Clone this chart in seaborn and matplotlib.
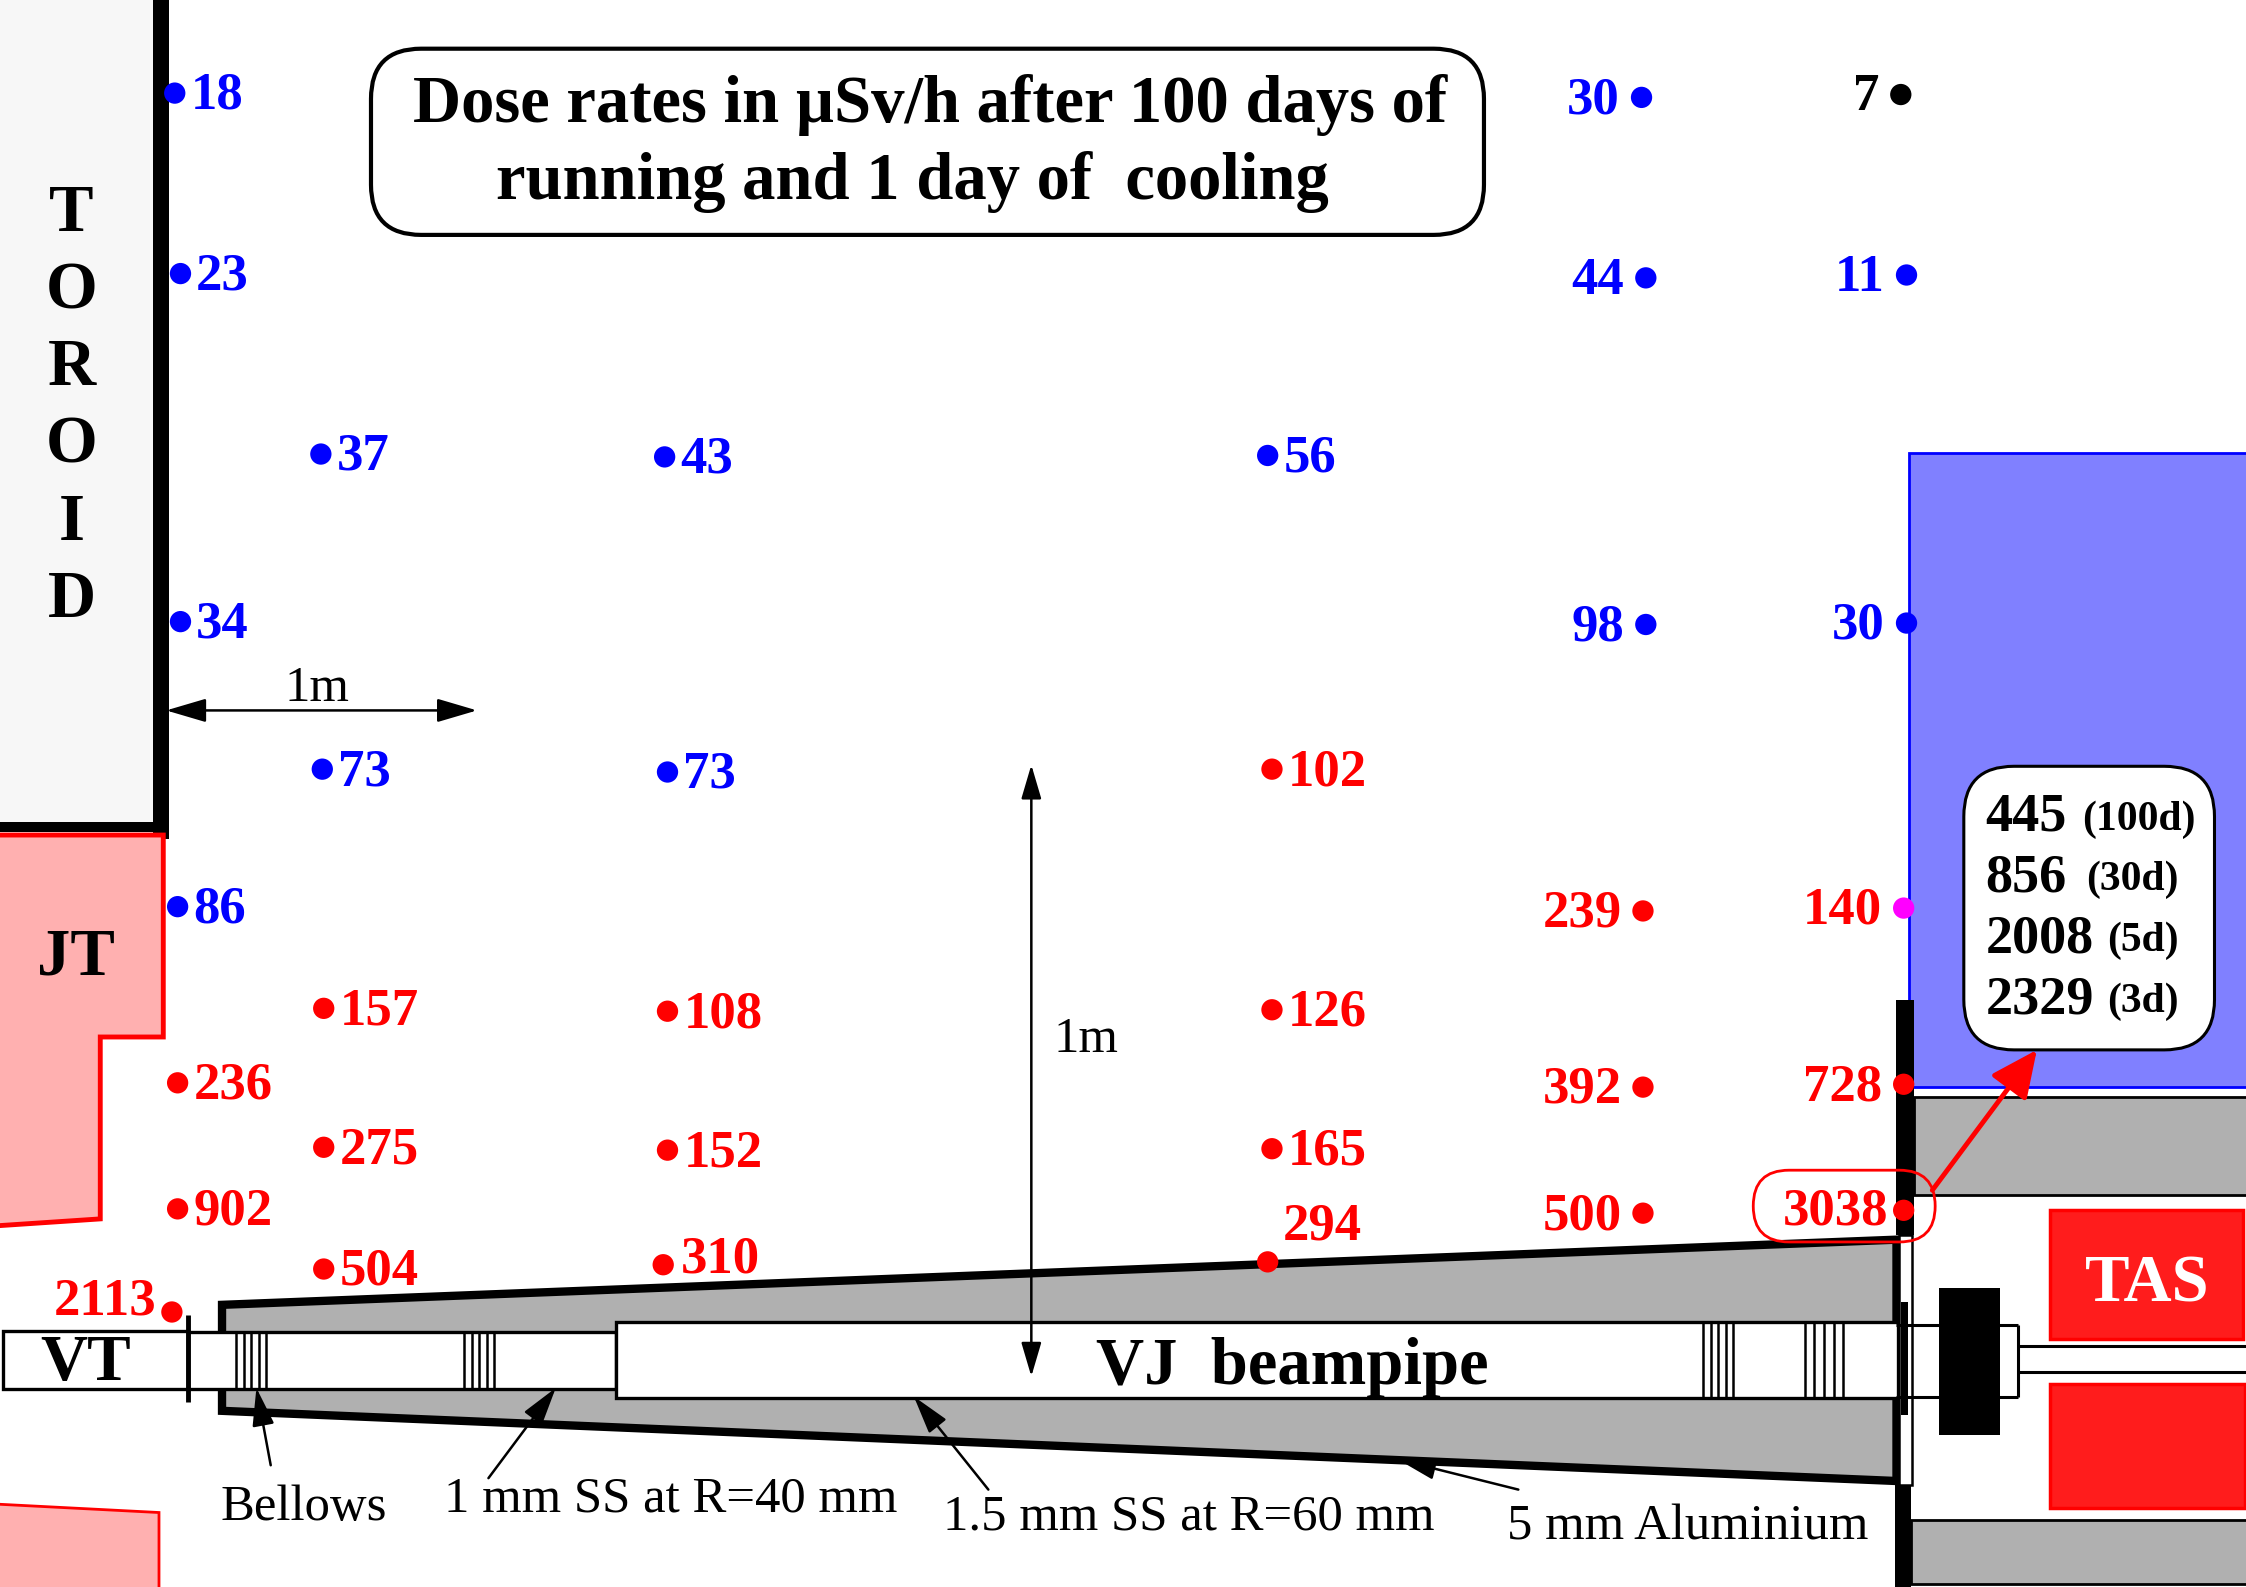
import matplotlib
matplotlib.use("Agg")
import matplotlib.pyplot as plt
from matplotlib.patches import Polygon, Rectangle, FancyBboxPatch, FancyArrowPatch
import pandas as pd
import seaborn as sns

# ---- measurement points (position on the drawing, dose rate, class) ----
point_x = [122, 126, 224, 464, 885, 126, 225, 466, 124,
           1146, 1149, 1331, 1149, 1331,
           1327,
           1329,
           888, 1147, 226, 466, 888, 124, 1147, 1329, 226, 466, 888, 124, 1147, 1329,
           226, 463, 885, 120]
point_y = [65, 191, 317, 319, 318, 434, 537, 539, 633,
           68, 194, 192, 436, 435,
           66,
           634,
           537, 636, 704, 706, 705, 756, 759, 757, 801, 803, 802, 844, 847, 845,
           886, 883, 881, 916]
point_value = [18, 23, 37, 43, 56, 34, 73, 73, 86,
               30, 44, 11, 98, 30,
               7,
               140,
               102, 239, 157, 108, 126, 236, 392, 728, 275, 152, 165, 902, 500, 3038,
               504, 310, 294, 2113]
point_class = ["blue"] * 14 + ["black"] + ["magenta"] + ["red"] * 18

class_colours = {"blue": "#0000ff", "black": "#000000", "magenta": "#ff00ff", "red": "#ff0000"}
label_colours = {"blue": "#0000ff", "black": "#000000", "magenta": "#ff0000", "red": "#ff0000"}

# ---- text content ----
title_lines = ["Dose rates in \u00b5Sv/h after 100 days of", "running and 1 day of  cooling"]
cooling_doses = ["445", "856", "2008", "2329"]
cooling_times = ["(100d)", "(30d)", "(5d)", "(3d)"]
toroid_letters = list("TOROID")

sns.set_theme(style="white", rc={"axes.grid": False, "text.color": "black"})
plt.rcParams["font.family"] = ["Liberation Serif", "DejaVu Serif"]

fig = plt.figure(figsize=(22.46, 15.87), dpi=100)
ax = fig.add_axes([0, 0, 1, 1])

GREY = "#b0b0b0"


def rect(x0, y0, x1, y1, fc="none", ec="black", lw=2.0, z=2):
    ax.add_patch(Rectangle((x0, y0), x1 - x0, y1 - y0, facecolor=fc, edgecolor=ec, linewidth=lw, zorder=z))


def line(xs, ys, lw=2.0, c="black", z=3):
    ax.plot(xs, ys, color=c, lw=lw, zorder=z, solid_capstyle="butt")


def arrow(a, b, style="-|>,head_length=0.9,head_width=0.26", lw=1.8, c="black", ms=26, z=6):
    ax.add_patch(FancyArrowPatch(a, b, arrowstyle=style, mutation_scale=ms, lw=lw, color=c,
                                 shrinkA=0, shrinkB=0, zorder=z))


# left: toroid and JT
rect(0, -5, 107, 575, fc="#f7f7f7", ec="none", lw=0)
rect(107, -5, 118, 586, fc="black", ec="none", lw=0, z=3)
rect(0, 574, 118, 581, fc="black", ec="none", lw=0, z=3)
ax.add_patch(Polygon([(-5, 583), (114, 583), (114, 724), (70, 724), (70, 851), (-5, 856)],
                     closed=True, fc="#ffb0b0", ec="#ff0000", lw=3.5, zorder=4))
ax.add_patch(Polygon([(-5, 1050), (111, 1056), (111, 1115), (-5, 1115)],
                     closed=True, fc="#ffb0b0", ec="#ff0000", lw=2, zorder=4))

# right: blue shield, grey blocks
rect(1333, 316, 1575, 759, fc="#8080ff", ec="#0000ff", lw=2)
rect(1336, 766, 1575, 834, fc=GREY, ec="black", lw=2)
rect(1334, 1061, 1575, 1106, fc=GREY, ec="black", lw=2)

# TAS
rect(1431, 845, 1566, 935, fc="#ff1c1c", ec="#ff0000", lw=2.5)
rect(1431, 966, 1567, 1053, fc="#ff1c1c", ec="#ff0000", lw=2.5)

# cone
ax.add_patch(Polygon([(155, 911), (1324, 865.5), (1324, 1034), (155, 985)],
                     closed=True, fc=GREY, ec="black", lw=6, zorder=2, joinstyle="miter"))

# tubes
rect(2, 929, 131, 970, fc="white", lw=2.4, z=3)
rect(131, 930, 430, 970, fc="white", lw=2.4, z=3)
rect(430, 923, 1325, 976, fc="white", lw=2.4, z=3)
line([131, 131], [918, 979], lw=3.5, z=5)
for start in (165, 324, 1189, 1260):
    for step in range(5):
        line([start + step * (21 if start != 1260 else 27) / 4] * 2, [930 if start < 400 else 923,
             970 if start < 400 else 976], lw=1.8, z=4)

# black wall and end flange
rect(1324, 698, 1336, 862, fc="black", ec="none", lw=0, z=5)
rect(1323, 1037, 1334, 1112, fc="black", ec="none", lw=0, z=5)
rect(1326, 862, 1335, 1037, fc="white", ec="black", lw=1.8, z=5)
rect(1327, 909, 1332, 988, fc="black", ec="none", lw=0, z=6)
line([1324, 1409], [925, 925], lw=2.2, z=6)
line([1324, 1409], [975, 975], lw=2.2, z=6)
line([1409, 1409], [925, 975], lw=2.2, z=6)
line([1409, 1575], [940, 940], lw=2.2)
line([1409, 1575], [958, 958], lw=2.2)
rect(1354, 899, 1396, 1002, fc="black", ec="none", lw=0, z=7)

# title and cooling boxes
ax.add_patch(FancyBboxPatch((294, 69), 707, 60, boxstyle="round,pad=35,rounding_size=35",
                            fc="white", ec="black", lw=3, zorder=7))
ax.add_patch(FancyBboxPatch((1406, 570), 105, 128, boxstyle="round,pad=35,rounding_size=35",
                            fc="white", ec="black", lw=2.2, zorder=7))
ax.add_patch(FancyBboxPatch((1249, 842), 77, 0.1, boxstyle="round,pad=25,rounding_size=25",
                            fc="none", ec="#ff0000", lw=2, zorder=9))

# arrows
both = "<|-|>,head_length=0.95,head_width=0.28"
arrow((116, 496), (333, 496), style=both)
arrow((720, 534), (720, 961), style=both, ms=22)
arrow((189, 1023), (179, 969))
arrow((341, 1032), (388, 969))
arrow((690, 1040), (638, 975))
arrow((1060, 1040), (976, 1019))
arrow((1349, 831), (1422, 733), style="-|>,head_length=0.9,head_width=0.42", lw=3.5, c="#ff0000", ms=32, z=10)

# points through seaborn
points = pd.DataFrame({"x": point_x, "y": point_y, "value": point_value, "cls": point_class})
sns.scatterplot(data=points, x="x", y="y", hue="cls", palette=class_colours, s=235, linewidth=0,
                legend=False, ax=ax, zorder=8, clip_on=False)
ax.set_xlim(0, 1568)
ax.set_ylim(1108, 0)
ax.axis("off")

# dose labels
NUM = 38
for row in points.itertuples():
    colour = label_colours[row.cls]
    opts = dict(color=colour, fontsize=NUM, fontweight="bold", va="center", zorder=9)
    if row.value == 294:
        ax.text(923, 856, "294", ha="center", **opts)
    elif row.value == 2113:
        ax.text(row.x - 11, row.y - 7, "2113", ha="right", **opts)
    elif row.value == 310:
        ax.text(row.x + 12, row.y - 4, "310", ha="left", **opts)
    elif row.value == 3038:
        ax.text(row.x - 11, row.y + 1, "3038", ha="right", **opts)
    elif row.x > 1000:
        ax.text(row.x - 15, row.y + 2, str(row.value), ha="right", **opts)
    else:
        ax.text(row.x + 11, row.y + 2, str(row.value), ha="left", **opts)

# text
bold = dict(fontweight="bold", ha="center", va="center", zorder=9)
ax.text(649.5, 73, title_lines[0], fontsize=48, **bold)
ax.text(637, 127, title_lines[1], fontsize=48, **bold)
for i, letter in enumerate(toroid_letters):
    ax.text(50, 150 + i * 53.8, letter, fontsize=48, **bold)
ax.text(53, 669, "JT", fontsize=48, **bold)
ax.text(60, 952, "VT", fontsize=47, **bold)
ax.text(902, 955, "VJ  beampipe", fontsize=48, **bold)
ax.text(1499, 897, "TAS", fontsize=48, color="white", **bold)

for i, (dose, time) in enumerate(zip(cooling_doses, cooling_times)):
    ypos = 571 + i * 42.5
    ax.text(1386, ypos, dose, fontsize=39, fontweight="bold", ha="left", va="center", zorder=9)
    ax.text(1533 if i == 0 else 1521, ypos + 1, time, fontsize=30, fontweight="bold", ha="right", va="center", zorder=9)

plain = dict(fontsize=36.5, ha="center", va="center", zorder=9, color="black")
ax.text(221, 481, "1m", **plain)
ax.text(758, 726, "1m", **plain)
ax.text(212, 1053, "Bellows", **plain)
ax.text(468, 1047, "1 mm SS at R=40 mm", **plain)
ax.text(830, 1059, "1.5 mm SS at R=60 mm", **plain)
ax.text(1178, 1066, "5 mm Aluminium", **plain)

fig.savefig("out.png", dpi=100, facecolor="white")
